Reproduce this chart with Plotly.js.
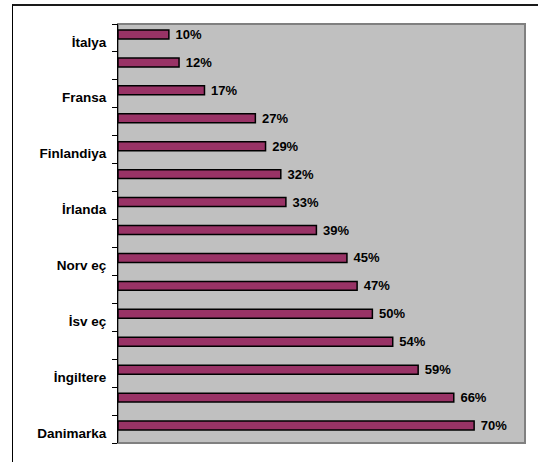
<!DOCTYPE html>
<html>
<head>
<meta charset="utf-8">
<script src="https://cdn.plot.ly/plotly-3.0.1.min.js"></script>
<style>
  html, body { margin: 0; padding: 0; background: #fff; }
  #wrap { position: relative; width: 538px; height: 462px; overflow: hidden; }
  #frame { position: absolute; left: 12px; top: 4px; width: 700px; height: 700px;
           border-top: 2px solid #1a1a1a; border-left: 1px solid #000; pointer-events: none; }
  #chart { position: absolute; left: 0; top: 0; width: 538px; height: 462px; }
</style>
</head>
<body>
<div id="wrap">
  <div id="chart"></div>
  <div id="frame"></div>
</div>
<script>
const categories = ["İtalya", "", "Fransa", "", "Finlandiya", "", "İrlanda", "", "Norv eç", "", "İsv eç", "", "İngiltere", "", "Danimarka"];
const values = [0.10, 0.12, 0.17, 0.27, 0.29, 0.32, 0.33, 0.39, 0.45, 0.47, 0.50, 0.54, 0.59, 0.66, 0.70];

const pos = categories.map((c, i) => i);
const labelIdx = pos.filter(i => categories[i] !== "");

const trace = {
  type: 'bar',
  orientation: 'h',
  x: values,
  y: pos,
  width: 0.32,
  offset: -0.285,
  marker: { color: '#993366', line: { color: '#000', width: 1.5 } },
  texttemplate: '\u00a0%{x:.0%}',
  textposition: 'outside',
  constraintext: 'none',
  cliponaxis: false,
  textfont: { family: 'Liberation Sans, Arial, sans-serif', size: 13, color: '#000', weight: 'bold' },
  hoverinfo: 'skip'
};

const layout = {
  width: 538, height: 462,
  margin: { l: 118, r: 13, t: 24, b: 19, pad: 0 },
  paper_bgcolor: 'rgba(0,0,0,0)',
  plot_bgcolor: '#C0C0C0',
  showlegend: false,
  xaxis: {
    range: [0, 0.8], showgrid: false, zeroline: false, showticklabels: false,
    ticks: '', showline: false, fixedrange: true
  },
  yaxis: {
    range: [14.5, -0.5], showgrid: false, zeroline: false,
    tickmode: 'array',
    tickvals: labelIdx.map(i => i + 0.14),
    ticktext: labelIdx.map(i => categories[i]),
    ticks: '',
    ticklabelstandoff: 8,
    tickfont: { family: 'Liberation Sans, Arial, sans-serif', size: 13.5, color: '#000', weight: 'bold' },
    showline: true, linecolor: '#000', linewidth: 1,
    minor: { ticks: 'outside', ticklen: 5, tickcolor: '#000', tickwidth: 1, tick0: -0.5, dtick: 1, showgrid: false },
    fixedrange: true
  },
  shapes: [
    { type: 'rect', xref: 'paper', yref: 'paper', x0: 0, x1: 1, y0: 0, y1: 1,
      line: { color: '#808080', width: 2 }, fillcolor: 'rgba(0,0,0,0)', layer: 'below' }
  ]
};

Plotly.newPlot('chart', [trace], layout, { displayModeBar: false, staticPlot: true });
</script>
</body>
</html>
